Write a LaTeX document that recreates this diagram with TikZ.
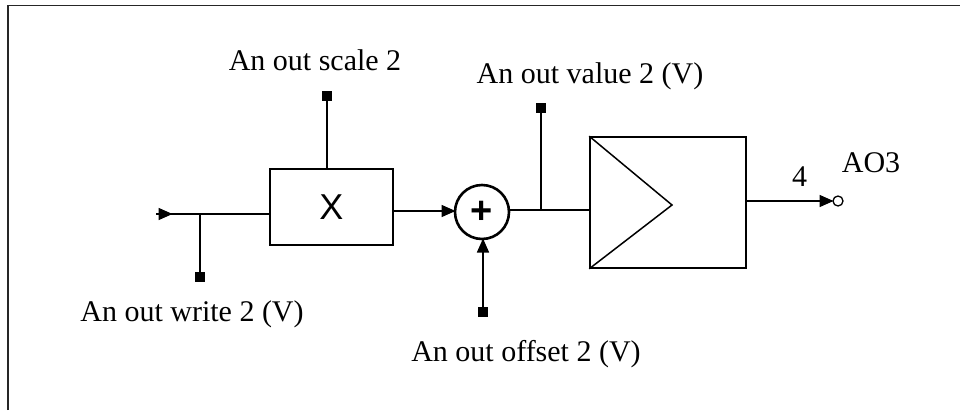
\documentclass[tikz,border=0pt]{standalone}
\usepackage{fontspec}
\setmainfont{Liberation Serif}
\newfontfamily\symfont{Liberation Sans}
\usetikzlibrary{arrows.meta}
\tikzset{
  x=1pt,y=-1pt,
  wire/.style={draw=black,line width=1.6pt},
  flow/.style={wire,-{Triangle[length=14pt,width=12pt]},shorten >=-0.5pt},
  blockbox/.style={draw=black,line width=1.6pt,fill=white,rectangle,inner sep=0pt,minimum width=#1},
  port/.style={fill=black,rectangle,inner sep=0pt,minimum size=10pt},
  lab/.style={font=\fontsize{30}{34}\selectfont,inner sep=0pt,anchor=base},
  sumring/.style={draw=black,line width=2.6pt,circle,inner sep=0pt,minimum size=54pt,fill=white,font=\symfont\bfseries\fontsize{38}{40}\selectfont},
  term/.style={draw=black,line width=1.3pt,circle,inner sep=0pt,minimum size=10pt,fill=white}
}
\begin{document}
\begin{tikzpicture}
\useasboundingbox (0,0) rectangle (960,410);
\fill[white] (0,0) rectangle (960,410);
\draw[draw=black!85,line width=1.5pt] (8,410) -- (8,5.5) -- (960,5.5);
\node[blockbox=123pt,minimum height=76pt,anchor=center,font=\symfont\fontsize{36}{38}\selectfont] (mul) at (331.5,207) {X};
\node[sumring] (sum) at (482,212) {+};
\node[blockbox=156pt,minimum height=131pt] (amp) at (668,202.5) {};
\coordinate (ampapex) at (672,205);
\draw[line width=1.5pt,line join=miter] (amp.north west) -- (ampapex) -- (amp.south west);
\node[port] (pscale) at (327,96) {};
\node[port] (pwrite) at (200,277) {};
\node[port] (poff) at (483,312) {};
\node[port] (pval) at (541,108) {};
\node[term] (ao) at (838,201) {};
\coordinate (start) at (156,214);
\coordinate (tw) at (200,214);
\coordinate (tv) at (541,210);
\coordinate (ampin) at (590,210);
\coordinate (mulin) at (270,214);
\coordinate (sumin) at (455,211);
\coordinate (mulout) at (393,211);
\coordinate (sumout) at (509,210);
\coordinate (ampout) at (746,201);
\coordinate (aoin) at (833,201);
\coordinate (sumbot) at (483,239);
\coordinate (mulup) at (327,169);
\draw[wire] (pscale) -- (mulup);
\draw[wire] (start) -- (mulin);
\draw[flow] (start) -- ++(16,0);
\draw[wire] (pwrite) -- (tw);
\draw[flow] (mulout) -- (sumin);
\draw[flow] (poff) -- (sumbot);
\draw[wire] (sumout) -- (ampin);
\draw[wire] (pval) -- (tv);
\draw[flow] (ampout) -- (aoin);
\node[lab] (t1) at (315,70) {An out scale 2};
\node[lab] (t2) at (590,83) {An out value 2 (V)};
\node[lab] (t3) at (192,321) {An out write 2 (V)};
\node[lab] (t4) at (526,361) {An out offset 2 (V)};
\node[lab] (t5) at (799.5,186) {4};
\node[lab] (t6) at (871,172) {AO3};
\end{tikzpicture}
\end{document}
